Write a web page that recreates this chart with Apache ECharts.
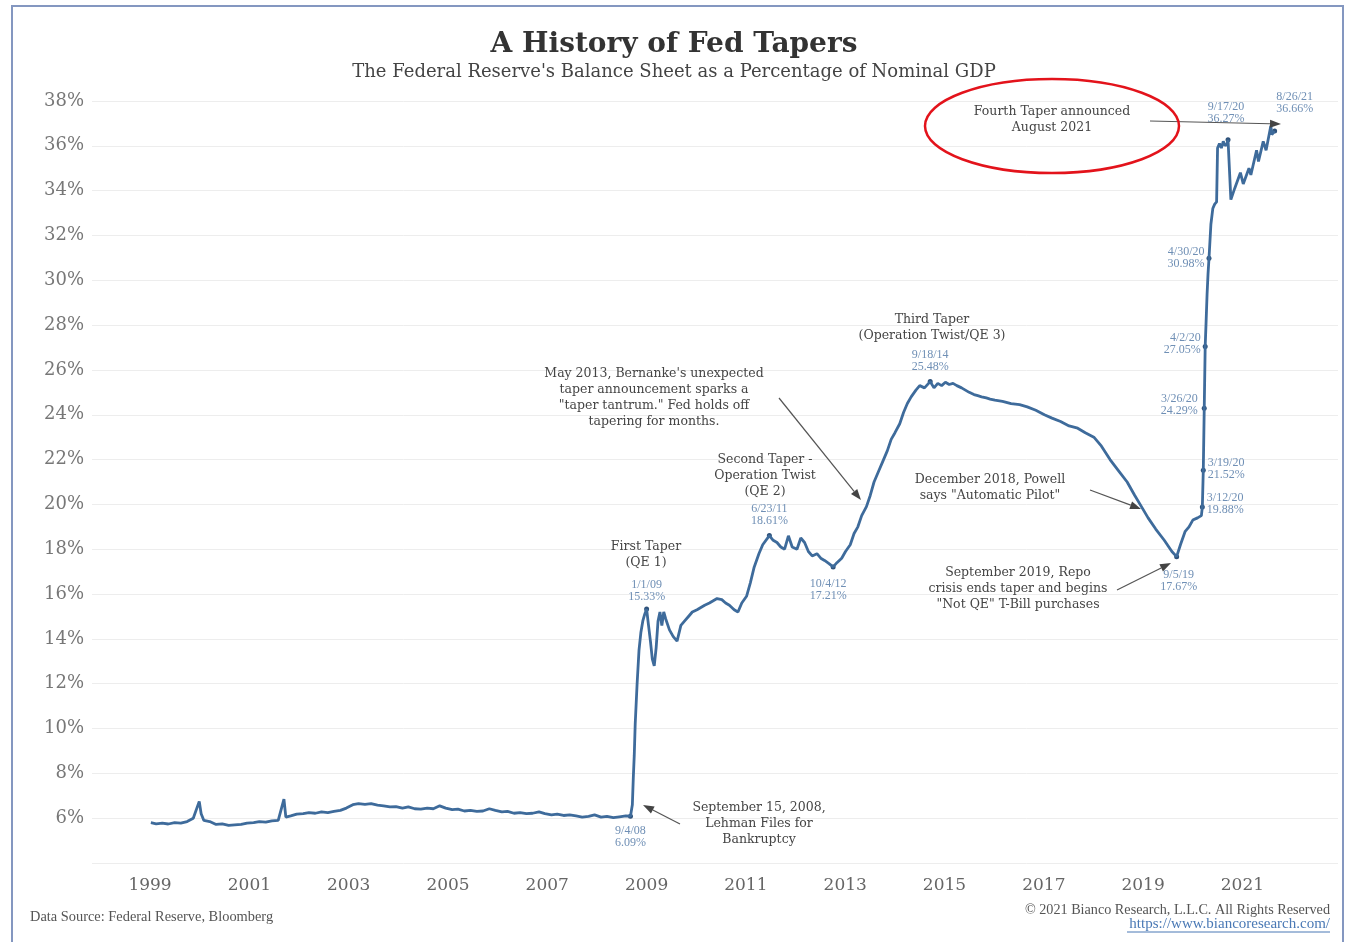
<!DOCTYPE html>
<html>
<head>
<meta charset="utf-8">
<script src="https://cdn.jsdelivr.net/npm/echarts@6/dist/echarts.min.js"></script>
<style>
  html, body { margin: 0; padding: 0; background: #ffffff; }
  #chart { position: absolute; left: 0; top: 0; width: 1348px; height: 942px; }
  #frame { position: absolute; left: 11px; top: 5px; width: 1333px; height: 950px;
           border: 2px solid #8497c0; box-sizing: border-box; pointer-events: none; }
</style>
</head>
<body>
<div id="chart"></div>
<div id="frame"></div>
<script>
// ---------------- DATA ----------------
const dates = [
  '1999-01-07','1999-02-15','1999-04-01','1999-05-15','1999-07-01','1999-08-15','1999-10-01','1999-11-15','1999-12-29',
  '2000-01-12','2000-02-01','2000-03-15','2000-05-01','2000-06-15','2000-08-01','2000-09-15','2000-11-01','2000-12-15',
  '2001-02-01','2001-03-15','2001-05-01','2001-06-15','2001-08-01','2001-09-12','2001-09-26','2001-11-01','2001-12-15',
  '2002-02-01','2002-03-15','2002-05-01','2002-06-15','2002-08-01','2002-09-15','2002-11-01','2002-12-15',
  '2003-02-01','2003-03-15','2003-05-01','2003-06-15','2003-08-01','2003-09-15','2003-11-01','2003-12-15',
  '2004-02-01','2004-03-15','2004-05-01','2004-06-15','2004-08-01','2004-09-15','2004-11-01','2004-12-15',
  '2005-02-01','2005-03-15','2005-05-01','2005-06-15','2005-08-01','2005-09-15','2005-11-01','2005-12-15',
  '2006-02-01','2006-03-15','2006-05-01','2006-06-15','2006-08-01','2006-09-15','2006-11-01','2006-12-15',
  '2007-02-01','2007-03-15','2007-05-01','2007-06-15','2007-08-01','2007-09-15','2007-11-01','2007-12-15',
  '2008-02-01','2008-03-15','2008-05-01','2008-06-15','2008-08-01','2008-09-04',
  '2008-09-18','2008-09-25','2008-10-02','2008-10-09','2008-10-23','2008-11-06','2008-11-20','2008-12-04','2008-12-18',
  '2009-01-01','2009-01-15','2009-01-29','2009-02-12','2009-02-26','2009-03-12','2009-03-26','2009-04-09','2009-04-23',
  '2009-05-07','2009-05-21','2009-06-18','2009-07-16','2009-08-13','2009-09-10','2009-10-08','2009-11-05','2009-12-03',
  '2010-01-07','2010-02-04','2010-03-04','2010-04-08','2010-05-06','2010-06-03','2010-07-08','2010-08-05','2010-09-02',
  '2010-10-07','2010-11-04','2010-12-02',
  '2011-01-06','2011-02-03','2011-03-03','2011-04-07','2011-05-05','2011-06-23','2011-07-21','2011-08-18','2011-09-15',
  '2011-10-13','2011-11-10','2011-12-08',
  '2012-01-12','2012-02-09','2012-03-08','2012-04-05','2012-05-03','2012-06-07','2012-07-05','2012-08-02','2012-09-06',
  '2012-10-04','2012-11-01','2012-12-06',
  '2013-01-03','2013-02-07','2013-03-07','2013-04-04','2013-05-02','2013-06-06','2013-07-04','2013-08-01','2013-09-05',
  '2013-10-03','2013-11-07','2013-12-05',
  '2014-01-02','2014-02-06','2014-03-06','2014-04-03','2014-05-01','2014-06-05','2014-07-03','2014-08-07','2014-09-18',
  '2014-10-16','2014-11-13','2014-12-11',
  '2015-01-08','2015-02-05','2015-03-05','2015-04-02','2015-05-07','2015-06-04','2015-07-02','2015-08-06','2015-09-03',
  '2015-10-01','2015-11-05','2015-12-03',
  '2016-01-07','2016-03-03','2016-05-05','2016-07-07','2016-09-01','2016-11-03',
  '2017-01-05','2017-03-02','2017-05-04','2017-07-06','2017-09-07','2017-11-02',
  '2018-01-04','2018-03-01','2018-05-03','2018-07-05','2018-09-06','2018-11-01','2018-12-20',
  '2019-02-07','2019-04-04','2019-06-06','2019-08-01','2019-09-05','2019-10-03','2019-11-07','2019-12-05',
  '2020-01-02','2020-02-06','2020-03-05','2020-03-12','2020-03-19','2020-03-26','2020-04-02','2020-04-09','2020-04-16',
  '2020-04-23','2020-04-30','2020-05-14','2020-05-28','2020-06-11','2020-06-25','2020-07-02','2020-07-16','2020-07-30',
  '2020-08-13','2020-08-27','2020-09-10','2020-09-17','2020-10-08','2020-11-05','2020-12-17',
  '2021-01-07','2021-02-18','2021-03-04','2021-04-15','2021-04-29','2021-06-03','2021-06-24','2021-07-29','2021-08-05',
  '2021-08-26'
];
const values = [
  5.80,5.75,5.78,5.74,5.80,5.78,5.85,6.00,6.75,
  6.20,5.90,5.85,5.72,5.75,5.68,5.70,5.72,5.78,
  5.80,5.85,5.82,5.88,5.90,6.85,6.05,6.10,6.18,
  6.20,6.25,6.22,6.28,6.25,6.30,6.35,6.45,
  6.60,6.65,6.62,6.65,6.58,6.55,6.50,6.52,
  6.45,6.50,6.42,6.40,6.45,6.42,6.55,6.45,
  6.38,6.40,6.32,6.35,6.30,6.32,6.42,6.35,
  6.28,6.30,6.22,6.25,6.20,6.22,6.28,6.20,
  6.15,6.18,6.12,6.15,6.10,6.05,6.08,6.15,
  6.05,6.08,6.02,6.06,6.10,6.09,
  6.60,7.80,8.80,10.20,12.00,13.50,14.30,14.80,15.10,
  15.33,14.60,13.90,13.10,12.80,13.60,14.80,15.20,14.60,
  15.20,14.90,14.40,14.10,13.90,14.60,14.80,15.00,15.20,
  15.30,15.40,15.50,15.60,15.70,15.80,15.75,15.60,15.50,
  15.30,15.20,15.60,
  15.90,16.50,17.20,17.80,18.20,18.61,18.40,18.30,18.10,
  18.00,18.60,18.10,
  18.00,18.50,18.30,17.90,17.70,17.80,17.60,17.50,17.35,
  17.21,17.40,17.60,
  17.90,18.20,18.70,19.00,19.50,19.90,20.40,21.00,21.50,
  21.90,22.40,22.90,
  23.20,23.60,24.10,24.50,24.80,25.10,25.30,25.20,25.48,
  25.20,25.40,25.30,
  25.45,25.35,25.40,25.30,25.20,25.10,25.00,24.90,24.85,
  24.80,24.75,24.70,
  24.65,24.60,24.50,24.45,24.35,24.20,
  24.00,23.85,23.70,23.50,23.40,23.20,
  23.00,22.60,22.00,21.50,21.00,20.40,19.90,
  19.40,18.90,18.40,17.90,17.67,18.20,18.80,19.00,
  19.30,19.40,19.50,19.88,21.52,24.29,27.05,28.20,29.40,
  30.30,30.98,32.50,33.20,33.40,33.50,35.90,36.10,35.90,
  36.20,36.00,36.10,36.27,33.60,34.10,34.80,
  34.30,35.00,34.70,35.80,35.30,36.20,35.80,36.90,36.50,
  36.66
];
const xTickYears = ['1999','2001','2003','2005','2007','2009','2011','2013','2015','2017','2019','2021'];
const yMin = 4, yMax = 38, yStep = 2;

// annotated data points (date, value, label text)
const pointDates  = ['2008-09-04','2009-01-01','2011-06-23','2012-10-04','2014-09-18','2019-09-05',
                     '2020-03-12','2020-03-19','2020-03-26','2020-04-02','2020-04-30','2020-09-17','2021-08-26'];
const pointValues = [6.09,15.33,18.61,17.21,25.48,17.67,19.88,21.52,24.29,27.05,30.98,36.27,36.66];
const pointTexts  = ['9/4/08\n6.09%','1/1/09\n15.33%','6/23/11\n18.61%','10/4/12\n17.21%','9/18/14\n25.48%',
                     '9/5/19\n17.67%','3/12/20\n19.88%','3/19/20\n21.52%','3/26/20\n24.29%','4/2/20\n27.05%',
                     '4/30/20\n30.98%','9/17/20\n36.27%','8/26/21\n36.66%'];

// ---------------- LAYOUT / STYLE ----------------
const pointLabelLayout = [
  {position:'bottom', distance:6,  offset:[0,0]},
  {position:'top',    distance:4,  offset:[0,0]},
  {position:'top',    distance:6,  offset:[0,0]},
  {position:'bottom', distance:8,  offset:[-5,0]},
  {position:'top',    distance:6,  offset:[0,0]},
  {position:'bottom', distance:10, offset:[2,0]},
  {position:'right',  distance:2,  offset:[0,-3]},
  {position:'right',  distance:2,  offset:[0,-2]},
  {position:'left',   distance:4,  offset:[0,-3]},
  {position:'left',   distance:2,  offset:[0,-3]},
  {position:'left',   distance:2,  offset:[0,0]},
  {position:'top',    distance:12, offset:[-2,0]},
  {position:'top',    distance:14, offset:[20,0]}
];

const SERIF = '"Liberation Serif", "DejaVu Serif", serif';
const DSERIF = '"DejaVu Serif", "Liberation Serif", serif';
const lineColor = '#3e6b9b';

const chart = echarts.init(document.getElementById('chart'), null, {renderer: 'canvas'});

function ts(y, m, d) { return new Date(y, m, d).getTime(); }
function parseDate(s) { const p = s.split('-').map(Number); return ts(p[0], p[1] - 1, p[2]); }

const seriesData = dates.map((d, i) => [parseDate(d), values[i]]);
const markData = pointDates.map((d, i) => {
  const lay = pointLabelLayout[i];
  return {
    coord: [parseDate(d), pointValues[i]],
    symbol: 'circle',
    symbolSize: 5,
    itemStyle: {color: '#2f527a'},
    label: {
      show: true,
      formatter: pointTexts[i],
      position: lay.position,
      distance: lay.distance,
      offset: lay.offset,
      color: '#6f8fb5',
      fontFamily: SERIF,
      fontSize: 12,
      lineHeight: 12,
      align: lay.position === 'left' ? 'right' : (lay.position === 'right' ? 'left' : 'center')
    }
  };
});

function annText(x, y, text) {
  return {
    type: 'text', x: x, y: y, z: 100,
    style: {
      text: text, fill: '#454545', font: '12.5px ' + DSERIF,
      textAlign: 'center', textVerticalAlign: 'middle', lineHeight: 16
    }
  };
}
function arrow(x1, y1, x2, y2) {
  const ang = Math.atan2(y2 - y1, x2 - x1);
  const L = 11, W = 4;
  const bx = x2 - L * Math.cos(ang), by = y2 - L * Math.sin(ang);
  const px = -Math.sin(ang) * W, py = Math.cos(ang) * W;
  return [
    {type: 'line', z: 100, shape: {x1: x1, y1: y1, x2: bx, y2: by},
     style: {stroke: '#555', lineWidth: 1.2}},
    {type: 'polygon', z: 100, shape: {points: [[x2, y2], [bx + px, by + py], [bx - px, by - py]]},
     style: {fill: '#444'}}
  ];
}

const graphics = [
  annText(646, 555, 'First Taper\n(QE 1)'),
  annText(765, 476, 'Second Taper -\nOperation Twist\n(QE 2)'),
  annText(654, 398, 'May 2013, Bernanke\'s unexpected\ntaper announcement sparks a\n"taper tantrum." Fed holds off\ntapering for months.'),
  annText(932, 328, 'Third Taper\n(Operation Twist/QE 3)'),
  annText(990, 488, 'December 2018, Powell\nsays "Automatic Pilot"'),
  annText(1018, 589, 'September 2019, Repo\ncrisis ends taper and begins\n"Not QE" T-Bill purchases'),
  annText(1052, 120, 'Fourth Taper announced\nAugust 2021'),
  annText(759, 824, 'September 15, 2008,\nLehman Files for\nBankruptcy'),
  ...arrow(680, 824, 643, 805),
  ...arrow(779, 398, 861, 500),
  ...arrow(1090, 490, 1141, 509),
  ...arrow(1117, 590, 1171, 563),
  ...arrow(1150, 121, 1281, 124),
  {type: 'ellipse', z: 101, shape: {cx: 1052, cy: 126, rx: 127, ry: 47},
   style: {fill: 'none', stroke: '#e3131b', lineWidth: 2.5}},
  {type: 'text', x: 30, y: 917, z: 100,
   style: {text: 'Data Source: Federal Reserve, Bloomberg', fill: '#555', font: '14.4px ' + SERIF,
           textAlign: 'left', textVerticalAlign: 'middle'}},
  {type: 'text', x: 1330, y: 910, z: 100,
   style: {text: '\u00A9 2021 Bianco Research, L.L.C. All Rights Reserved', fill: '#555', font: '14.2px ' + SERIF,
           textAlign: 'right', textVerticalAlign: 'middle'}},
  {type: 'text', x: 1330, y: 924, z: 100,
   style: {text: 'https://www.biancoresearch.com/', fill: '#4a79b5', font: '15px ' + SERIF,
           textAlign: 'right', textVerticalAlign: 'middle'}},
  {type: 'line', z: 100, shape: {x1: 1127, y1: 932, x2: 1330, y2: 932},
   style: {stroke: '#4a79b5', lineWidth: 1}}
];

const option = {
  backgroundColor: '#ffffff',
  animation: false,
  title: {
    text: 'A History of Fed Tapers',
    subtext: 'The Federal Reserve\'s Balance Sheet as a Percentage of Nominal GDP',
    left: 'center', top: 26, itemGap: 4,
    textStyle: {fontFamily: DSERIF, fontSize: 28, fontWeight: 'bold', color: '#333'},
    subtextStyle: {fontFamily: DSERIF, fontSize: 18, color: '#444'}
  },
  grid: {left: 92, right: 10, top: 101, bottom: 79, containLabel: false},
  xAxis: {
    type: 'value',
    min: ts(1997, 9, 31),
    max: ts(2022, 11, 5),
    axisLine: {show: false},
    axisTick: {show: false},
    splitLine: {show: false},
    axisLabel: {
      customValues: xTickYears.map(y => ts(+y, 0, 1)),
      formatter: (v) => String(new Date(v).getFullYear()),
      color: '#666', fontFamily: DSERIF, fontSize: 17, margin: 14
    }
  },
  yAxis: {
    type: 'value',
    min: yMin, max: yMax, interval: yStep,
    axisLine: {show: false},
    axisTick: {show: false},
    splitLine: {show: true, lineStyle: {color: '#ededed', width: 1}},
    axisLabel: {
      formatter: (v) => v === yMin ? '' : v + '%',
      color: '#777', fontFamily: DSERIF, fontSize: 18, margin: 8
    }
  },
  series: [{
    type: 'line',
    data: seriesData,
    showSymbol: false,
    symbol: 'none',
    lineStyle: {color: lineColor, width: 2.8},
    z: 10,
    markPoint: {data: markData, animation: false}
  }],
  graphic: graphics
};
chart.setOption(option);
</script>
</body>
</html>
